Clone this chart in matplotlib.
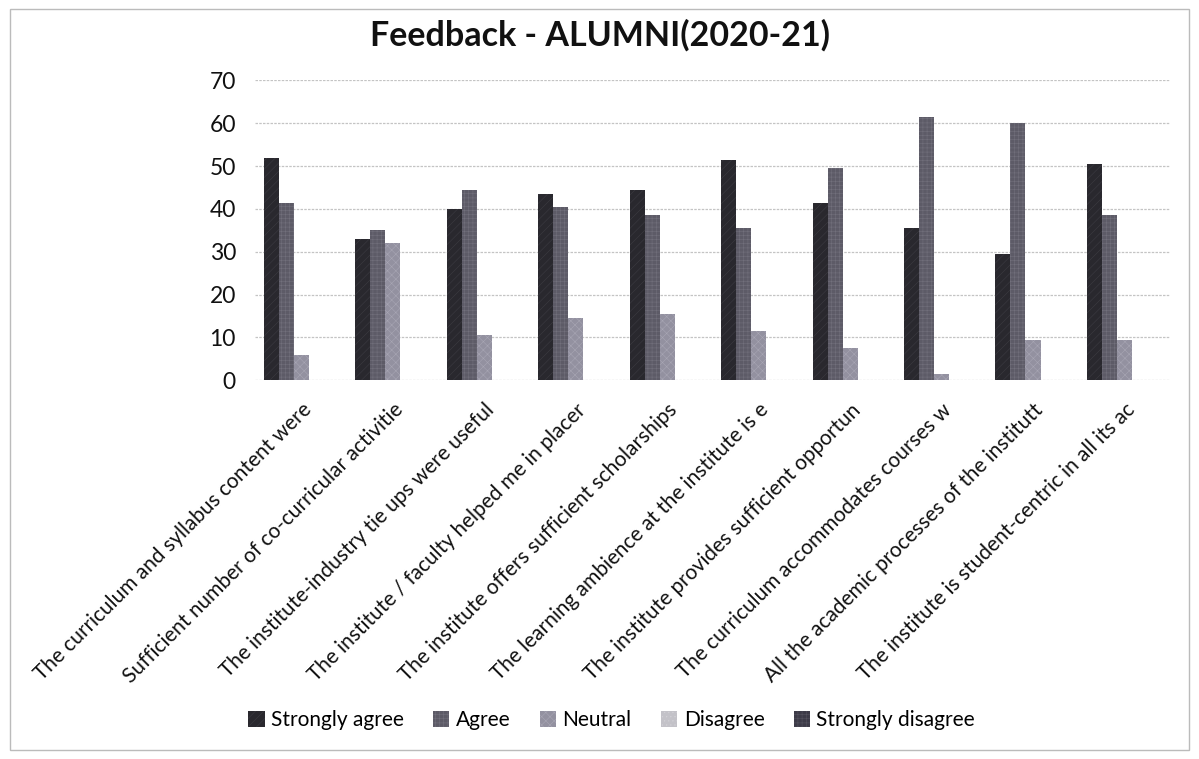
"""
Grouped bar chart: alumni feedback 2020-21.
"""
import numpy as np
import matplotlib
matplotlib.use('Agg')
import matplotlib.pyplot as plt
from matplotlib.patches import Rectangle

matplotlib.rcParams['font.family'] = ['Lato', 'DejaVu Sans']
matplotlib.rcParams['hatch.linewidth'] = 0.4

questions = [
    'The curriculum and syllabus content were',
    'Sufficient number of co-curricular activitie',
    'The institute-industry tie ups were useful',
    'The institute / faculty helped me in placer',
    'The institute offers sufficient scholarships',
    'The learning ambience at the institute is e',
    'The institute provides sufficient opportun',
    'The curriculum accommodates courses w',
    'All the academic processes of the institutt',
    'The institute is student-centric in all its ac',
]
series = ['Strongly agree', 'Agree', 'Neutral', 'Disagree', 'Strongly disagree']
strongly_agree = [52, 33, 40, 43.5, 44.5, 51.5, 41.5, 35.5, 29.5, 50.5]
agree = [41.5, 35, 44.5, 40.5, 38.5, 35.5, 49.5, 61.5, 60, 38.5]
neutral = [6, 32, 10.5, 14.5, 15.5, 11.5, 7.5, 1.5, 9.5, 9.5]
disagree = [0] * 10
strongly_disagree = [0] * 10
values = [strongly_agree, agree, neutral, disagree, strongly_disagree]

colors = ['#29282e', '#5d5b67', '#9391a0', '#c3c2c8', '#3d3b48']
hatches = ['////', '++++', 'xxxx', '....', '++++']
edge = ['#3c3b42', '#72707c', '#a8a6b4', '#d2d1d6', '#55535f']

fig = plt.figure(figsize=(11.99, 7.59), dpi=100)
ax = fig.add_axes([0.213, 0.499, 0.763, 0.395])

x = np.arange(len(questions))
w = 0.164
for i, vals in enumerate(values):
    ax.bar(x + (i - 2) * w, vals, width=w, color=colors[i], hatch=hatches[i],
           edgecolor=edge[i], linewidth=0, label=series[i])

ax.set_xlim(-0.5, len(questions) - 0.5)
ax.set_ylim(0, 70)
ax.set_yticks(range(0, 80, 10))
ax.yaxis.grid(True, color='#c4c4c4', linestyle=(0, (2, 1)), linewidth=0.9)
ax.set_axisbelow(True)
for s in ax.spines.values():
    s.set_visible(False)
ax.tick_params(axis='both', length=0, colors='#111111')
ax.tick_params(axis='y', pad=14, labelsize=16.5)
ax.tick_params(axis='x', pad=14, labelsize=15)
ax.set_xticks(x)
ax.set_xticklabels(questions, rotation=45, ha='right', rotation_mode='anchor')

fig.text(0.5, 0.953, 'Feedback - ALUMNI(2020-21)', fontsize=24.5, fontweight='bold',
         color='#111111', ha='center', va='center')

fig.legend(loc='center', bbox_to_anchor=(0.51, 0.051), ncol=5, frameon=False,
           fontsize=15, handlelength=0.8, handleheight=0.8, handletextpad=0.3,
           columnspacing=1.4)

fig.patches.append(Rectangle((0.008, 0.012), 0.984, 0.976, transform=fig.transFigure,
                             fill=False, edgecolor='#bbbbbb', linewidth=1.0))

fig.savefig('out.png', dpi=100)
